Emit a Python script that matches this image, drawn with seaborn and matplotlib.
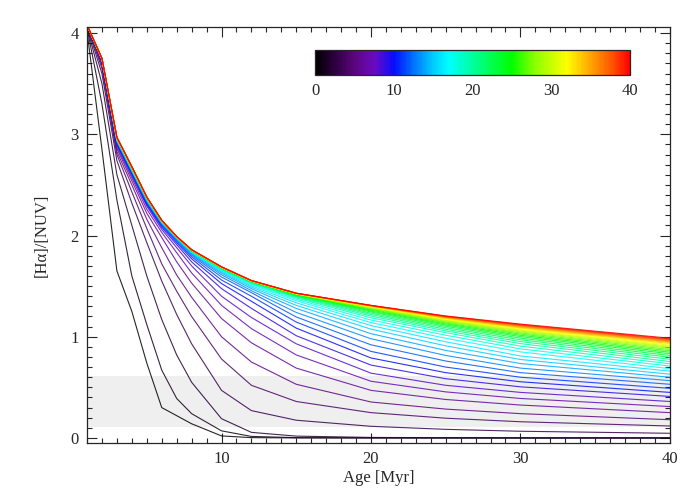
import matplotlib
matplotlib.use('Agg')
import pandas as pd
import seaborn as sns
import matplotlib.pyplot as plt
from matplotlib.colors import LinearSegmentedColormap, Normalize
from matplotlib.cm import ScalarMappable
from matplotlib.ticker import MultipleLocator

ages = [1, 2, 3, 4, 5, 6, 7, 8, 10, 12, 15, 20, 25, 30, 40]

# [Halpha]/[NUV] per curve, one list per colour-bar value (0..40)
r00 = [4.02, 2.85, 1.65, 1.25, 0.74, 0.30, 0.22, 0.14, 0.02, 0.003, 0.0, 0.0, 0.0, 0.0, 0.0]
r01 = [4.05, 3.30, 2.35, 1.60, 1.12, 0.67, 0.39, 0.24, 0.07, 0.015, 0.003, 0.0, 0.0, 0.0, 0.0]
r02 = [4.06, 3.50, 2.60, 2.10, 1.60, 1.17, 0.82, 0.55, 0.19, 0.055, 0.018, 0.005, 0.002, 0.0, 0.0]
r03 = [4.07, 3.60, 2.74, 2.32, 1.93, 1.55, 1.22, 0.93, 0.47, 0.27, 0.175, 0.115, 0.085, 0.066, 0.046]
r04 = [4.08, 3.65, 2.80, 2.43, 2.07, 1.72, 1.45, 1.20, 0.78, 0.52, 0.36, 0.25, 0.195, 0.16, 0.118]
r05 = [4.08, 3.68, 2.83, 2.50, 2.16, 1.88, 1.61, 1.39, 1.00, 0.75, 0.53, 0.355, 0.285, 0.24, 0.18]
r06 = [4.08, 3.70, 2.86, 2.54, 2.22, 1.98, 1.74, 1.53, 1.18, 0.94, 0.69, 0.47, 0.38, 0.325, 0.25]
r07 = [4.08, 3.71, 2.88, 2.57, 2.26, 2.03, 1.83, 1.63, 1.31, 1.08, 0.82, 0.56, 0.455, 0.39, 0.31]
r08 = [4.08, 3.72, 2.895, 2.59, 2.29, 2.06, 1.88, 1.70, 1.40, 1.19, 0.93, 0.64, 0.52, 0.45, 0.36]
r09 = [4.08, 3.725, 2.905, 2.605, 2.305, 2.08, 1.91, 1.74, 1.475, 1.28, 1.01, 0.72, 0.585, 0.505, 0.41]
r10 = [4.08, 3.73, 2.915, 2.615, 2.315, 2.095, 1.93, 1.77, 1.525, 1.35, 1.085, 0.79, 0.645, 0.555, 0.45]
r11 = [4.08, 3.735, 2.92, 2.625, 2.325, 2.105, 1.945, 1.79, 1.56, 1.40, 1.145, 0.855, 0.70, 0.60, 0.49]
r12 = [4.08, 3.735, 2.925, 2.63, 2.333, 2.112, 1.955, 1.805, 1.59, 1.435, 1.195, 0.92, 0.76, 0.645, 0.53]
r13 = [4.08, 3.74, 2.93, 2.635, 2.34, 2.118, 1.962, 1.815, 1.612, 1.455, 1.24, 0.98, 0.815, 0.69, 0.566]
r14 = [4.08, 3.74, 2.935, 2.64, 2.345, 2.123, 1.967, 1.823, 1.628, 1.475, 1.28, 1.03, 0.865, 0.735, 0.60]
r15 = [4.08, 3.74, 2.94, 2.645, 2.35, 2.127, 1.972, 1.83, 1.64, 1.49, 1.31, 1.075, 0.91, 0.775, 0.63]
r16 = [4.08, 3.742, 2.943, 2.65, 2.354, 2.13, 1.975, 1.835, 1.65, 1.503, 1.335, 1.11, 0.95, 0.81, 0.66]
r17 = [4.08, 3.743, 2.946, 2.653, 2.357, 2.133, 1.978, 1.84, 1.657, 1.515, 1.355, 1.14, 0.985, 0.85, 0.685]
r18 = [4.08, 3.744, 2.948, 2.656, 2.36, 2.135, 1.98, 1.843, 1.663, 1.523, 1.37, 1.165, 1.015, 0.88, 0.71]
r19 = [4.08, 3.745, 2.95, 2.659, 2.362, 2.137, 1.982, 1.846, 1.668, 1.53, 1.383, 1.187, 1.04, 0.907, 0.733]
r20 = [4.08, 3.745, 2.952, 2.662, 2.364, 2.139, 1.983, 1.848, 1.672, 1.535, 1.392, 1.204, 1.058, 0.932, 0.755]
r21 = [4.08, 3.746, 2.954, 2.664, 2.366, 2.14, 1.984, 1.849, 1.675, 1.539, 1.399, 1.219, 1.074, 0.952, 0.777]
r22 = [4.08, 3.746, 2.955, 2.666, 2.367, 2.141, 1.985, 1.85, 1.677, 1.542, 1.405, 1.232, 1.089, 0.97, 0.797]
r23 = [4.08, 3.747, 2.957, 2.668, 2.369, 2.142, 1.985, 1.851, 1.679, 1.544, 1.41, 1.244, 1.103, 0.986, 0.815]
r24 = [4.08, 3.747, 2.958, 2.669, 2.37, 2.143, 1.986, 1.852, 1.681, 1.546, 1.414, 1.254, 1.115, 1.001, 0.832]
r25 = [4.08, 3.747, 2.959, 2.671, 2.371, 2.144, 1.986, 1.853, 1.682, 1.547, 1.417, 1.263, 1.126, 1.014, 0.847]
r26 = [4.08, 3.748, 2.96, 2.672, 2.372, 2.145, 1.987, 1.854, 1.683, 1.548, 1.419, 1.271, 1.136, 1.026, 0.861]
r27 = [4.08, 3.748, 2.961, 2.673, 2.373, 2.145, 1.987, 1.854, 1.684, 1.549, 1.421, 1.278, 1.145, 1.037, 0.874]
r28 = [4.08, 3.748, 2.962, 2.674, 2.374, 2.146, 1.988, 1.855, 1.685, 1.55, 1.423, 1.284, 1.153, 1.047, 0.886]
r29 = [4.08, 3.748, 2.963, 2.675, 2.375, 2.146, 1.988, 1.856, 1.686, 1.551, 1.424, 1.289, 1.16, 1.056, 0.897]
r30 = [4.08, 3.749, 2.964, 2.676, 2.376, 2.147, 1.988, 1.856, 1.686, 1.551, 1.425, 1.293, 1.166, 1.064, 0.907]
r31 = [4.08, 3.749, 2.965, 2.677, 2.377, 2.147, 1.989, 1.857, 1.687, 1.552, 1.426, 1.296, 1.172, 1.072, 0.917]
r32 = [4.08, 3.749, 2.966, 2.677, 2.377, 2.148, 1.989, 1.857, 1.688, 1.552, 1.427, 1.299, 1.177, 1.079, 0.926]
r33 = [4.08, 3.749, 2.967, 2.678, 2.378, 2.148, 1.989, 1.858, 1.688, 1.553, 1.427, 1.301, 1.182, 1.086, 0.934]
r34 = [4.08, 3.75, 2.967, 2.678, 2.378, 2.148, 1.989, 1.858, 1.689, 1.553, 1.428, 1.303, 1.186, 1.092, 0.942]
r35 = [4.08, 3.75, 2.968, 2.679, 2.379, 2.149, 1.99, 1.858, 1.689, 1.554, 1.428, 1.305, 1.19, 1.098, 0.95]
r36 = [4.08, 3.75, 2.968, 2.679, 2.379, 2.149, 1.99, 1.859, 1.689, 1.554, 1.429, 1.306, 1.194, 1.104, 0.957]
r37 = [4.08, 3.75, 2.969, 2.68, 2.38, 2.15, 1.99, 1.859, 1.69, 1.554, 1.429, 1.307, 1.197, 1.11, 0.964]
r38 = [4.08, 3.75, 2.969, 2.68, 2.38, 2.15, 1.99, 1.859, 1.69, 1.555, 1.43, 1.308, 1.2, 1.115, 0.971]
r39 = [4.08, 3.75, 2.97, 2.68, 2.38, 2.15, 1.99, 1.86, 1.69, 1.555, 1.43, 1.309, 1.203, 1.12, 0.978]
r40 = [4.08, 3.75, 2.97, 2.68, 2.38, 2.15, 1.99, 1.86, 1.69, 1.555, 1.43, 1.31, 1.205, 1.125, 0.985]

curves = [r00, r01, r02, r03, r04, r05, r06, r07, r08, r09, r10,
          r11, r12, r13, r14, r15, r16, r17, r18, r19, r20,
          r21, r22, r23, r24, r25, r26, r27, r28, r29, r30,
          r31, r32, r33, r34, r35, r36, r37, r38, r39, r40]
params = list(range(41))

# grey band of observed values
band_lo, band_hi = 0.105, 0.61

rows = []
for p, vals in zip(params, curves):
    for a, v in zip(ages, vals):
        rows.append((p, a, v))
df = pd.DataFrame(rows, columns=['p', 'age', 'ratio'])

# IDL-like rainbow: black -> purple -> blue -> cyan -> green -> yellow -> red
cmap = LinearSegmentedColormap.from_list('idl_rainbow', [
    (0.0, (0.0, 0.0, 0.0)),
    (0.0625, (0.18, 0.0, 0.25)),
    (0.125, (0.36, 0.02, 0.50)),
    (0.1875, (0.42, 0.04, 0.76)),
    (0.25, (0.02, 0.05, 1.0)),
    (0.3125, (0.0, 0.45, 1.0)),
    (0.375, (0.0, 0.80, 1.0)),
    (0.425, (0.0, 1.0, 1.0)),
    (0.5, (0.0, 1.0, 0.62)),
    (0.5625, (0.0, 1.0, 0.3)),
    (0.625, (0.0, 1.0, 0.0)),
    (0.7, (0.55, 1.0, 0.0)),
    (0.8, (1.0, 1.0, 0.0)),
    (0.875, (1.0, 0.65, 0.0)),
    (0.95, (1.0, 0.3, 0.0)),
    (1.0, (1.0, 0.0, 0.0)),
])

sns.set_style('ticks')
plt.rcParams['font.family'] = ['Liberation Serif', 'DejaVu Serif']
plt.rcParams['font.size'] = 12

fig = plt.figure(figsize=(7, 5), dpi=100)
ax = fig.add_axes([0.1243, 0.114, 0.8327, 0.832])

ax.axhspan(band_lo, band_hi, color='#efefef', lw=0, zorder=0)
sns.lineplot(data=df, x='age', y='ratio', hue='p', palette=cmap,
             hue_norm=(0, 40), legend=False, lw=0.8, alpha=0.85,
             errorbar=None, ax=ax)

ax.set_xlim(1, 40)
ax.set_ylim(-0.05, 4.06)
ax.xaxis.set_major_locator(MultipleLocator(10))
ax.xaxis.set_minor_locator(MultipleLocator(1))
ax.yaxis.set_major_locator(MultipleLocator(1))
ax.yaxis.set_minor_locator(MultipleLocator(0.1))
ax.tick_params(which='both', direction='in', top=True, right=True,
               width=0.8, labelsize=12)
ax.tick_params(which='major', length=7, pad=6)
ax.tick_params(which='minor', length=3.5)
for s in ax.spines.values():
    s.set_linewidth(0.9)
ax.set_xlabel('Age [Myr]', fontsize=12, labelpad=2)
ax.set_ylabel('[Hα]/[NUV]', fontsize=12, labelpad=15)

cax = fig.add_axes([0.45, 0.85, 0.45, 0.05])
sm = ScalarMappable(norm=Normalize(0, 40), cmap=cmap)
cb = fig.colorbar(sm, cax=cax, orientation='horizontal')
cb.set_ticks([0, 10, 20, 30, 40])
cax.xaxis.set_minor_locator(MultipleLocator(5))
cax.tick_params(which='both', direction='in', top=True, bottom=True,
                length=3, width=0.8, labelsize=12, pad=6)
cb.outline.set_linewidth(0.9)

fig.savefig('out.png', dpi=100)
